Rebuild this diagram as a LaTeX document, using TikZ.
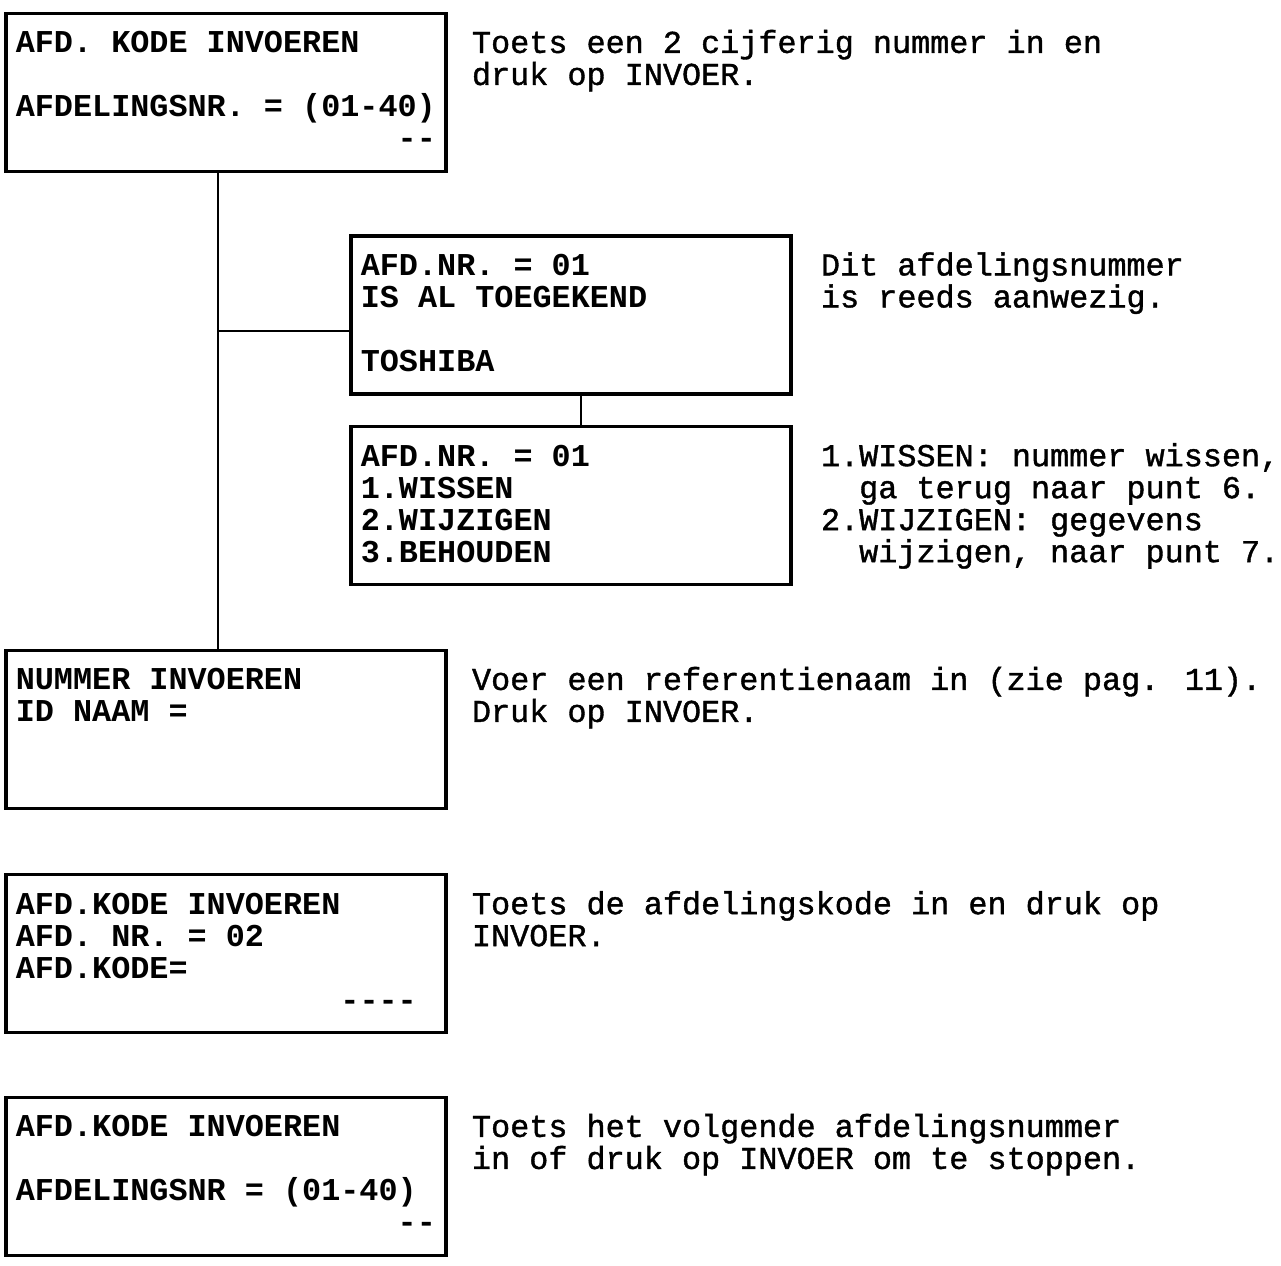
\documentclass[tikz,border=0pt]{standalone}
\usepackage{fontspec}
\newfontfamily\schermfont{Liberation Mono}
\newfontfamily\uitlegfont{Liberation Mono}[FakeBold=1.2]
\usetikzlibrary{positioning}
% blank columns in a mono line
\newcommand\tekens[1]{\hspace*{#1\fontcharwd\font`0}}
% lines of text, baseline on the first line
\newcommand\regels[1]{\vtop{\let\\\cr\halign{##\hfil\cr#1\crcr}}}

\begin{document}
\begin{tikzpicture}[
    x=0.5pt, y=-0.5pt,
    scherm/.style={rectangle, draw, line width=1.6pt, minimum width=220pt, minimum height=79pt, inner sep=0pt},
    inhoud/.style={font=\schermfont\bfseries\fontsize{15.91}{16}\selectfont, inner sep=0pt, anchor=base west},
    uitleg/.style={font=\uitlegfont\fontsize{15.91}{16}\selectfont, inner sep=0pt, anchor=base west},
    lijn/.style={draw, line width=1.3pt}
]
    \useasboundingbox (0,0) rectangle (1281,1265);

    % Nodes
    \node (kode) [scherm] at (226,92.5) {};
    \node (kodetxt) [inhoud] at ([xshift=5.5pt, yshift=-20.5pt]kode.north west) {\regels{AFD. KODE INVOEREN\\\\AFDELINGSNR. = (01-40)\\\tekens{20}-\kern0pt-}};
    \node (kodeuitleg) [uitleg, xshift=12pt] at (kode.east |- kodetxt.base) {\regels{Toets een 2 cijferig nummer in en\\druk op INVOER.}};

    \node (bezet) [scherm] at (571,315) {};
    \node (bezettxt) [inhoud] at ([xshift=5.5pt, yshift=-20.5pt]bezet.north west) {\regels{AFD.NR. = 01\\IS AL TOEGEKEND\\\\TOSHIBA}};
    \node (bezetuitleg) [uitleg, xshift=14pt] at (bezet.east |- bezettxt.base) {\regels{Dit afdelingsnummer\\is reeds aanwezig.}};

    \node (keuze) [scherm] at (571,505.75) {};
    \node (keuzetxt) [inhoud] at ([xshift=5.5pt, yshift=-20.5pt]keuze.north west) {\regels{AFD.NR. = 01\\1.WISSEN\\2.WIJZIGEN\\3.BEHOUDEN}};
    \node (keuzeuitleg) [uitleg, xshift=14pt] at (keuze.east |- keuzetxt.base) {\regels{1.WISSEN: nummer wissen,\\\tekens{2}ga terug naar punt 6.\\2.WIJZIGEN: gegevens\\\tekens{2}wijzigen, naar punt 7.}};

    \node (nummer) [scherm] at (226,729.5) {};
    \node (nummertxt) [inhoud] at ([xshift=5.5pt, yshift=-20.5pt]nummer.north west) {\regels{NUMMER INVOEREN\\ID NAAM =}};
    \node (nummeruitleg) [uitleg, xshift=12pt] at (nummer.east |- nummertxt.base) {\regels{Voer een referentienaam in (zie pag. 11).\\Druk op INVOER.}};

    \node (afdkode) [scherm] at (226,953.75) {};
    \node (afdkodetxt) [inhoud] at ([xshift=5.5pt, yshift=-20.5pt]afdkode.north west) {\regels{AFD.KODE INVOEREN\\AFD. NR. = 02\\AFD.KODE=\\\tekens{17}-\kern0pt-\kern0pt-\kern0pt-}};
    \node (afdkodeuitleg) [uitleg, xshift=12pt] at (afdkode.east |- afdkodetxt.base) {\regels{Toets de afdelingskode in en druk op\\INVOER.}};

    \node (volgende) [scherm] at (226,1176.5) {};
    \node (volgendetxt) [inhoud] at ([xshift=5.5pt, yshift=-20.5pt]volgende.north west) {\regels{AFD.KODE INVOEREN\\\\AFDELINGSNR = (01-40)\\\tekens{20}-\kern0pt-}};
    \node (volgendeuitleg) [uitleg, xshift=12pt] at (volgende.east |- volgendetxt.base) {\regels{Toets het volgende afdelingsnummer\\in of druk op INVOER om te stoppen.}};

    % Connections
    \coordinate (tak) at (218,331);
    \draw [lijn] ([xshift=-4pt]kode.south) -- ([xshift=-4pt]nummer.north);
    \draw [lijn] (tak) -- (tak -| bezet.west);
    \draw [lijn] ([xshift=5pt]bezet.south) -- ([xshift=5pt]keuze.north);
\end{tikzpicture}
\end{document}
